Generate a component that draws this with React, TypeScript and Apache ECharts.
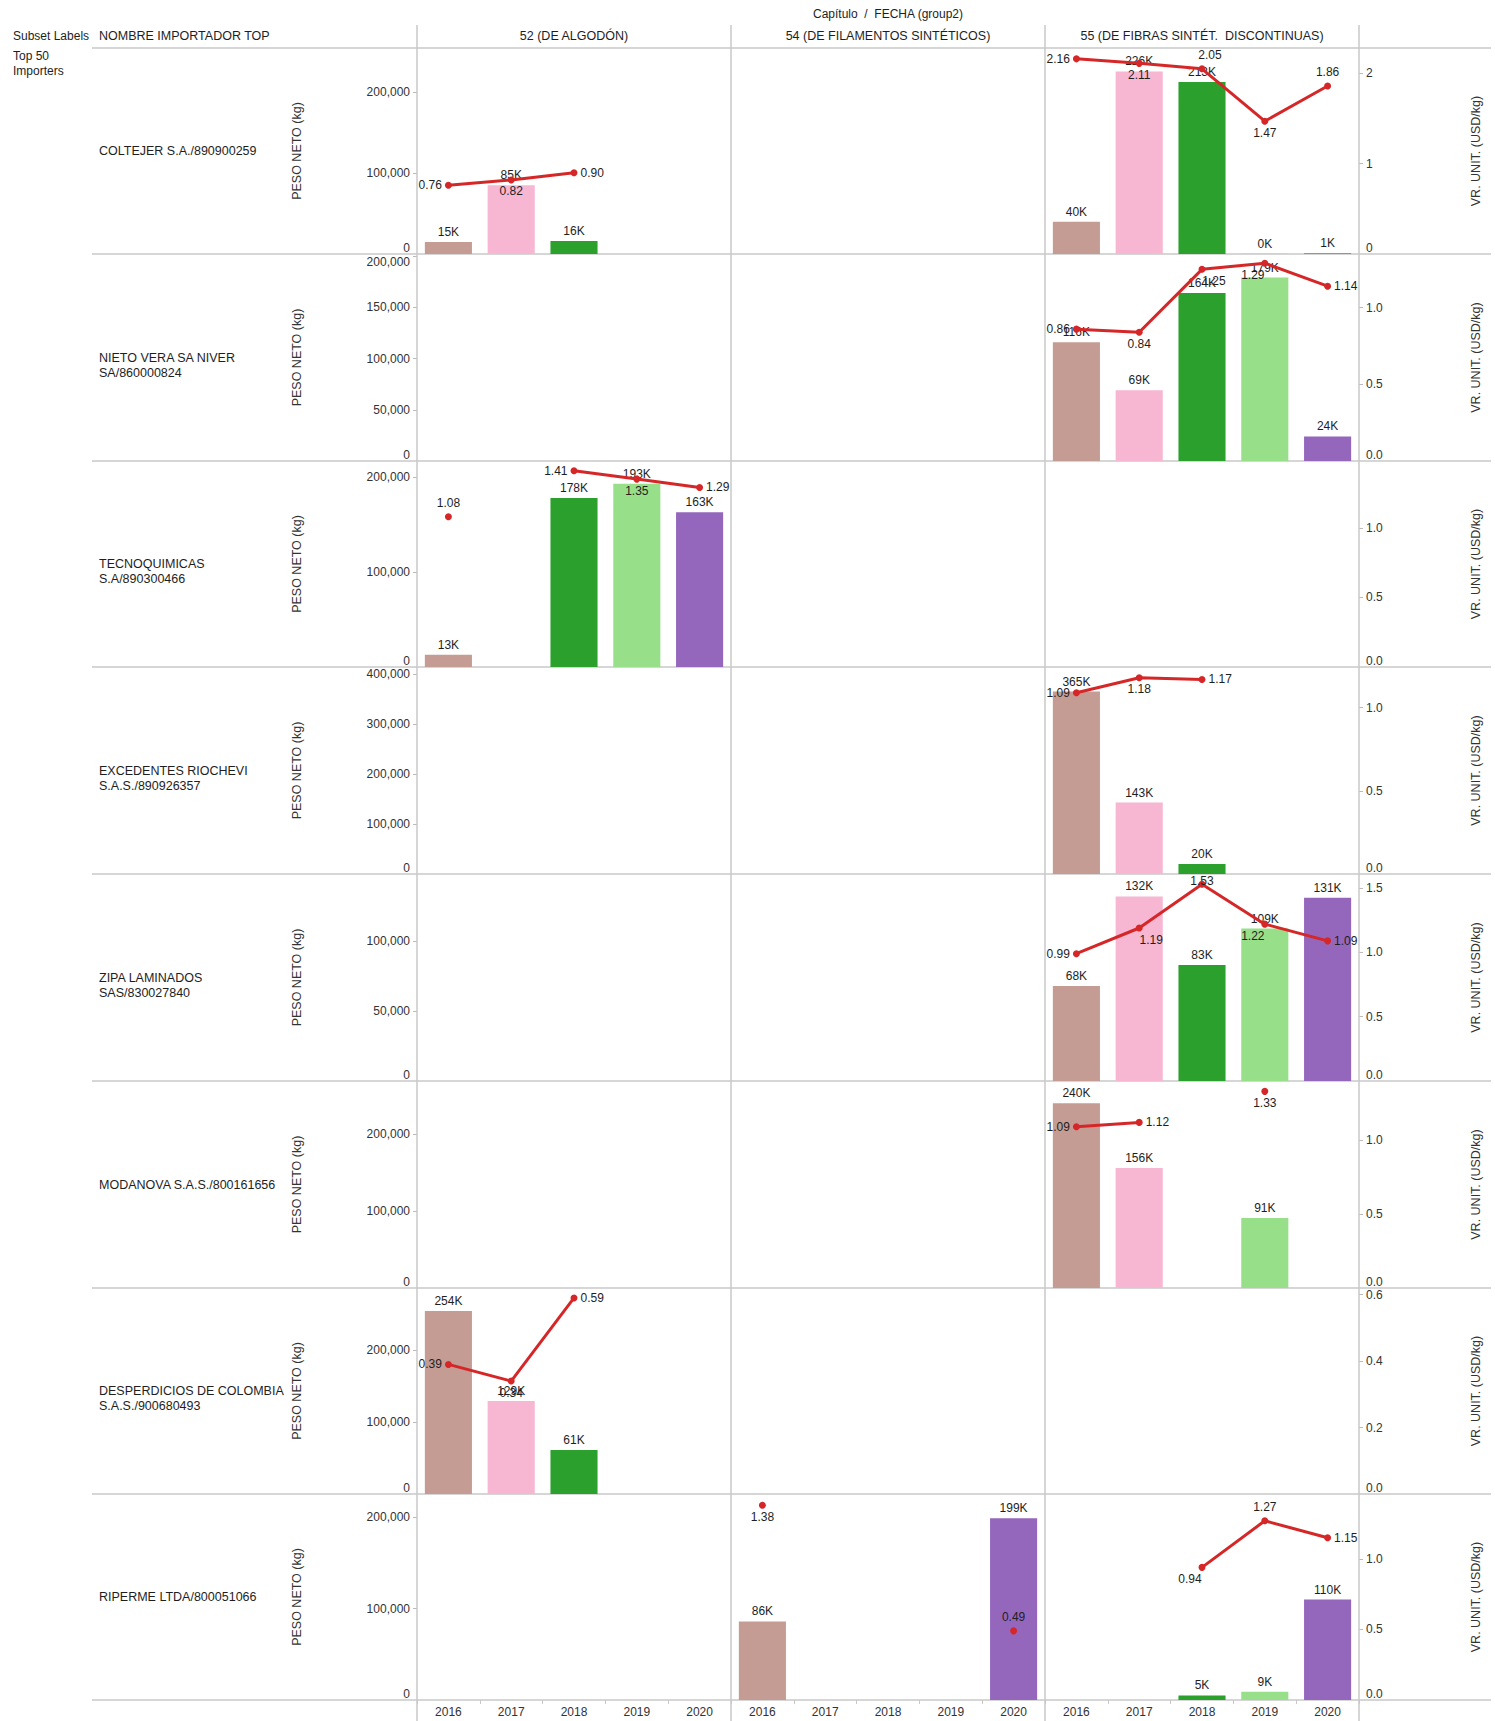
import React, { useEffect, useRef } from 'react';
import * as echarts from 'echarts';

const FONT = "'Liberation Sans', Arial, sans-serif";

// ---------- data ----------
const YEARS = ['2016', '2017', '2018', '2019', '2020'];
const YEAR_COLORS = ['#c49c94', '#f7b6d2', '#2ca02c', '#98df8a', '#9467bd'];
const CHAPTERS = ['52 (DE ALGODÓN)', '54 (DE FILAMENTOS SINTÉTICOS)', '55 (DE FIBRAS SINTÉT.  DISCONTINUAS)'];
const IMPORTERS = [
  'COLTEJER S.A./890900259',
  'NIETO VERA SA NIVER\nSA/860000824',
  'TECNOQUIMICAS\nS.A/890300466',
  'EXCEDENTES RIOCHEVI\nS.A.S./890926357',
  'ZIPA LAMINADOS\nSAS/830027840',
  'MODANOVA S.A.S./800161656',
  'DESPERDICIOS DE COLOMBIA\nS.A.S./900680493',
  'RIPERME LTDA/800051066',
];

const _ = null;
const E = [_, _, _, _, _];

// PESO NETO (kg) per chapter [52, 54, 55] per year 2016..2020
const PESO_COLTEJER = [[15000, 85000, 16000, _, _], E, [40000, 226000, 213000, 300, 1000]];
const VR_COLTEJER = [[0.76, 0.82, 0.90, _, _], E, [2.16, 2.11, 2.05, 1.47, 1.86]];
const PESO_NIETO = [E, E, [116000, 69000, 164000, 179000, 24000]];
const VR_NIETO = [E, E, [0.86, 0.84, 1.25, 1.29, 1.14]];
const PESO_TECNO = [[13000, _, 178000, 193000, 163000], E, E];
const VR_TECNO = [[1.08, _, 1.41, 1.35, 1.29], E, E];
const PESO_EXCED = [E, E, [365000, 143000, 20000, _, _]];
const VR_EXCED = [E, E, [1.09, 1.18, 1.17, _, _]];
const PESO_ZIPA = [E, E, [68000, 132000, 83000, 109000, 131000]];
const VR_ZIPA = [E, E, [0.99, 1.19, 1.53, 1.22, 1.09]];
const PESO_MODANOVA = [E, E, [240000, 156000, _, 91000, _]];
const VR_MODANOVA = [E, E, [1.09, 1.12, _, 1.33, _]];
const PESO_DESPERD = [[254000, 129000, 61000, _, _], E, E];
const VR_DESPERD = [[0.39, 0.34, 0.59, _, _], E, E];
const PESO_RIPERME = [E, [86000, _, _, _, 199000], [_, _, 5000, 9000, 110000]];
const VR_RIPERME = [E, [1.38, _, _, _, 0.49], [_, _, 0.94, 1.27, 1.15]];

// axis ticks / ranges per importer row
const LEFT_TICKS = [
  [0, 100000, 200000],
  [0, 50000, 100000, 150000, 200000],
  [0, 100000, 200000],
  [0, 100000, 200000, 300000, 400000],
  [0, 50000, 100000],
  [0, 100000, 200000],
  [0, 100000, 200000],
  [0, 100000, 200000],
];
const RIGHT_TICKS = [
  [0, 1, 2],
  [0, 0.5, 1],
  [0, 0.5, 1],
  [0, 0.5, 1],
  [0, 0.5, 1, 1.5],
  [0, 0.5, 1],
  [0, 0.2, 0.4, 0.6],
  [0, 0.5, 1],
];
const LEFT_MAX = [255000, 202000, 217000, 414000, 148000, 269000, 286000, 225600];
const RIGHT_MAX = [2.28, 1.35, 1.48, 1.245, 1.61, 1.4, 0.62, 1.46];
const RIGHT_DECIMALS = [0, 1, 1, 1, 1, 1, 1, 1];

// ---------- styling (label placement of line points) ----------
const P0 = ['', '', '', '', ''];
const POS_COLTEJER = [['l', 'b', 'r', '', ''], P0, ['l', 'b', 'tr', 'b', 't']];
const POS_NIETO = [P0, P0, ['l', 'b', 'br', 'bl', 'r']];
const POS_TECNO = [['t', '', 'l', 'b', 'r'], P0, P0];
const POS_EXCED = [P0, P0, ['l', 'b', 'r', '', '']];
const POS_ZIPA = [P0, P0, ['l', 'br', 'c', 'bl', 'r']];
const POS_MODANOVA = [P0, P0, ['l', 'r', '', 'b', '']];
const POS_DESPERD = [['l', 'b', 'r', '', ''], P0, P0];
const POS_RIPERME = [P0, ['b', '', '', '', 't'], ['', '', 'bl', 't', 'r']];

const PESO_ROWS = [PESO_COLTEJER, PESO_NIETO, PESO_TECNO, PESO_EXCED, PESO_ZIPA, PESO_MODANOVA, PESO_DESPERD, PESO_RIPERME];
const VR_ROWS = [VR_COLTEJER, VR_NIETO, VR_TECNO, VR_EXCED, VR_ZIPA, VR_MODANOVA, VR_DESPERD, VR_RIPERME];
const POS_ROWS = [POS_COLTEJER, POS_NIETO, POS_TECNO, POS_EXCED, POS_ZIPA, POS_MODANOVA, POS_DESPERD, POS_RIPERME];

const ROW_EDGES = [48, 254, 461, 667, 874, 1081, 1288, 1494, 1700];
const COL_EDGES = [417, 731, 1045, 1359];
const LINE_COLOR = '#c8c8c8';
const TEXT = '#1e1e1e';

function labelFor(code: string) {
  switch (code) {
    case 'l': return { position: 'left', distance: 3 };
    case 'r': return { position: 'right', distance: 3 };
    case 't': return { position: 'top', distance: 4 };
    case 'tr': return { position: 'top', distance: 4, offset: [8, 0] };
    case 'b': return { position: 'bottom', distance: 2 };
    case 'br': return { position: 'bottom', distance: 2, offset: [12, 0] };
    case 'bl': return { position: 'bottom', distance: 2, offset: [-12, 0] };
    case 'c': return { position: 'inside', offset: [0, -3] };
    default: return { position: 'top' };
  }
}

function buildOption() {
  const grid: any[] = [];
  const xAxis: any[] = [];
  const yAxis: any[] = [];
  const series: any[] = [];
  const graphic: any[] = [];

  for (let r = 0; r < 8; r++) {
    for (let c = 0; c < 3; c++) {
      const g = r * 3 + c;
      const top = ROW_EDGES[r];
      const h = ROW_EDGES[r + 1] - top;
      grid.push({ left: COL_EDGES[c], top, width: COL_EDGES[c + 1] - COL_EDGES[c], height: h, containLabel: false });
      xAxis.push({
        gridIndex: g,
        type: 'category',
        data: YEARS,
        axisLine: { show: false },
        axisTick: { show: r === 7, length: 4, lineStyle: { color: LINE_COLOR } },
        axisLabel: { show: r === 7, fontSize: 12, color: '#333', margin: 6, fontFamily: FONT },
        splitLine: { show: false },
      });
      const lt = LEFT_TICKS[r];
      yAxis.push({
        gridIndex: g,
        type: 'value',
        position: 'left',
        min: 0,
        max: LEFT_MAX[r],
        interval: lt[1] - lt[0],
        show: c === 0,
        name: c === 0 ? 'PESO NETO (kg)' : '',
        nameLocation: 'middle',
        nameGap: 114,
        nameTextStyle: { fontSize: 12.5, color: '#333', fontFamily: FONT },
        axisLine: { show: false },
        splitLine: { show: false },
        axisTick: { show: true, length: 4, customValues: lt.slice(1), lineStyle: { color: '#bbb' } },
        axisLabel: {
          show: true,
          customValues: lt,
          fontSize: 12,
          color: '#333',
          margin: 7,
          fontFamily: FONT,
          verticalAlignMinLabel: 'bottom',
          verticalAlignMaxLabel: r === 1 ? 'top' : undefined,
          formatter: (v: number) => (lt.indexOf(v) >= 0 ? v.toLocaleString('en-US') : ''),
        },
      });
      const rt = RIGHT_TICKS[r];
      const dec = RIGHT_DECIMALS[r];
      yAxis.push({
        gridIndex: g,
        type: 'value',
        position: 'right',
        min: 0,
        max: RIGHT_MAX[r],
        interval: rt[1] - rt[0],
        show: c === 2,
        name: c === 2 ? 'VR. UNIT. (USD/kg)' : '',
        nameLocation: 'middle',
        nameGap: 110,
        nameTextStyle: { fontSize: 12.5, color: '#333', fontFamily: FONT },
        axisLine: { show: false },
        splitLine: { show: false },
        axisTick: { show: true, length: 4, customValues: rt.slice(1), lineStyle: { color: '#bbb' } },
        axisLabel: {
          show: true,
          customValues: rt,
          fontSize: 12,
          color: '#333',
          margin: 7,
          fontFamily: FONT,
          verticalAlignMinLabel: 'bottom',
          formatter: (v: number) => (rt.some((t) => Math.abs(t - v) < 1e-9) ? v.toFixed(dec) : ''),
        },
      });

      const peso = PESO_ROWS[r][c];
      const vr = VR_ROWS[r][c];
      const pos = POS_ROWS[r][c];
      series.push({
        type: 'bar',
        xAxisIndex: g,
        yAxisIndex: 2 * g,
        barCategoryGap: '25%',
        data: peso.map((v, i) => (v == null ? '-' : { value: v, itemStyle: { color: YEAR_COLORS[i] } })),
        label: {
          show: true,
          position: 'top',
          distance: 4,
          fontSize: 12,
          color: TEXT,
          fontFamily: FONT,
          formatter: (p: any) => Math.round(p.value / 1000) + 'K',
        },
      });
      series.push({
        type: 'line',
        xAxisIndex: g,
        yAxisIndex: 2 * g + 1,
        symbol: 'circle',
        symbolSize: 7,
        connectNulls: false,
        z: 3,
        lineStyle: { width: 3, color: '#d62728' },
        itemStyle: { color: '#d62728' },
        data: vr.map((v, i) => (v == null ? '-' : { value: v, label: labelFor(pos[i]) })),
        label: {
          show: true,
          fontSize: 12,
          color: TEXT,
          fontFamily: FONT,
          formatter: (p: any) => Number(p.value).toFixed(2),
        },
      });
    }
  }

  // table rules
  ROW_EDGES.forEach((y) => {
    graphic.push({
      type: 'line',
      silent: true,
      z: 1,
      shape: { x1: 92, y1: y, x2: 1491, y2: y },
      style: { stroke: LINE_COLOR, lineWidth: 1.5 },
    });
  });
  COL_EDGES.forEach((x) => {
    graphic.push({
      type: 'line',
      silent: true,
      z: 1,
      shape: { x1: x, y1: 25, x2: x, y2: 1721 },
      style: { stroke: LINE_COLOR, lineWidth: 1.5 },
    });
  });

  const txt = (text: string, x: number, y: number, align = 'left', va = 'middle', extra: any = {}) => ({
    type: 'text',
    silent: true,
    x,
    y,
    style: { text, fill: TEXT, fontSize: 12.5, fontFamily: FONT, align, verticalAlign: va, ...extra },
  });

  graphic.push(txt('Capítulo  /  FECHA (group2)', 888, 14, 'center', 'middle', { fontSize: 12 }));
  graphic.push(txt('Subset Labels', 13, 36, 'left', 'middle', { fontSize: 12 }));
  graphic.push(txt('NOMBRE IMPORTADOR TOP', 99, 36));
  CHAPTERS.forEach((ch, c) => {
    graphic.push(txt(ch, (COL_EDGES[c] + COL_EDGES[c + 1]) / 2, 36, 'center'));
  });
  graphic.push(txt('Top 50\nImporters', 13, 48, 'left', 'top', { lineHeight: 15, fontSize: 12 }));
  IMPORTERS.forEach((name, r) => {
    const cy = (ROW_EDGES[r] + ROW_EDGES[r + 1]) / 2;
    graphic.push(txt(name, 99, cy - 7.5, 'left', 'top', { lineHeight: 15 }));
  });

  return {
    animation: false,
    backgroundColor: '#ffffff',
    textStyle: { fontFamily: FONT },
    grid,
    xAxis,
    yAxis,
    series,
    graphic,
  };
}

export default function App() {
  const ref = useRef<HTMLDivElement>(null);
  useEffect(() => {
    if (!ref.current) return;
    const chart = echarts.init(ref.current, null, { renderer: 'svg' });
    chart.setOption(buildOption() as any);
    return () => chart.dispose();
  }, []);
  return (
    <div
      ref={ref}
      style={{ position: 'absolute', left: 0, top: 0, width: 1495, height: 1721, background: '#fff' }}
    />
  );
}
